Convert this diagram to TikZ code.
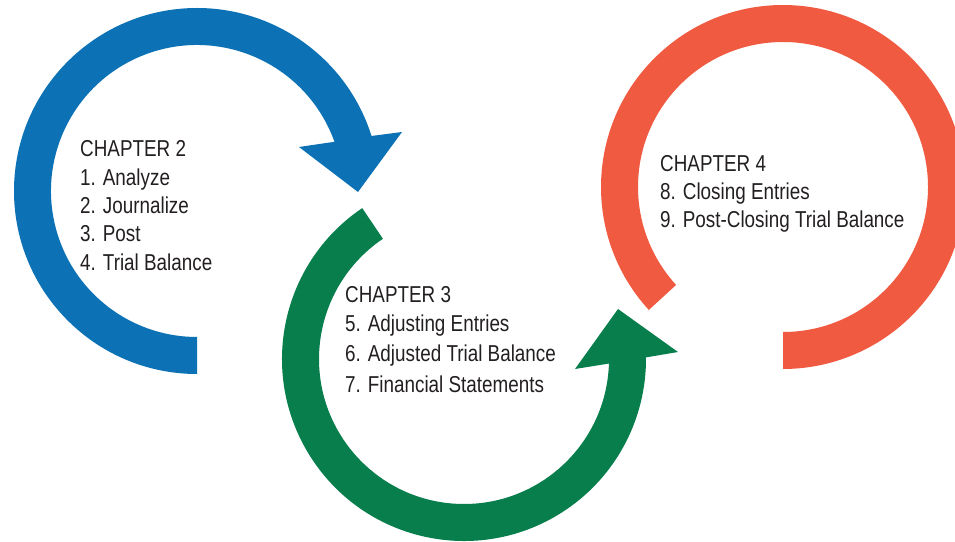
\documentclass[tikz,border=0pt]{standalone}
\usepackage{fontspec}
\setmainfont{Liberation Sans}[FakeStretch=0.82]
\usepackage{tikz}
\usetikzlibrary{calc}
\definecolor{ringblue}{HTML}{0C71B5}
\definecolor{ringgreen}{HTML}{077E4C}
\definecolor{ringred}{HTML}{F05A41}
\definecolor{textgray}{HTML}{231F20}
\tikzset{
    bluering/.style={
        fill=ringblue, % 蓝色环
        draw=none
    },
    greenring/.style={
        fill=ringgreen, % 绿色环
        draw=none
    },
    redring/.style={
        fill=ringred, % 红色环
        draw=none
    },
    itemnode/.style={
        anchor=base west,
        inner sep=0,
        text=textgray, % 深灰色文字
        font=\fontsize{23}{27}\selectfont
    }
}
\begin{document}
\begin{tikzpicture}[x=1pt, y=1pt]
            \clip (0,0) rectangle (955,541);
            \coordinate (cb) at (197,350);
            \coordinate (cg) at (464,182);
            \coordinate (cr) at (783,354);
            % 第二章 (蓝色箭头)
            \fill[bluering] ($(cb)+(270:183)$)
                arc[start angle=270, end angle=17.5, radius=183]
                -- (402,409) -- (358,349) -- (299,394)
                -- ($(cb)+(19.7:146)$)
                arc[start angle=19.7, end angle=270, radius=146] -- cycle;
            % 第三章 (绿色箭头)
            \fill[greenring] ($(cg)+(124:145)$) -- ($(cg)+(124:182)$)
                arc[start angle=124, end angle=360.5, radius=182]
                -- (678,189) -- (618,232) -- (575,172)
                -- ($(cg)+(358.2:145)$)
                arc[start angle=358.2, end angle=124, radius=145] -- cycle;
            % 第四章 (红色环)
            \fill[redring] ($(cr)+(222.5:182)$)
                arc[start angle=222.5, end angle=-90, radius=182]
                -- ($(cr)+(-90:145)$)
                arc[start angle=-90, end angle=222.5, radius=145] -- cycle;
            % 文字
            \node[itemnode] (ch2) at (80,384) {CHAPTER 2};
            \node[itemnode] (s1) at (80,355) {1. Analyze};
            \node[itemnode] (s2) at (80,327) {2. Journalize};
            \node[itemnode] (s3) at (80,299) {3. Post};
            \node[itemnode] (s4) at (80,270) {4. Trial Balance};
            \node[itemnode] (ch3) at (345,238) {CHAPTER 3};
            \node[itemnode] (s5) at (345,209) {5. Adjusting Entries};
            \node[itemnode] (s6) at (345,179) {6. Adjusted Trial Balance};
            \node[itemnode] (s7) at (345,149) {7. Financial Statements};
            \node[itemnode] (ch4) at (660,369) {CHAPTER 4};
            \node[itemnode] (s8) at (660,341) {8. Closing Entries};
            \node[itemnode] (s9) at (660,313) {9. Post-Closing Trial Balance};
\end{tikzpicture}
\end{document}
